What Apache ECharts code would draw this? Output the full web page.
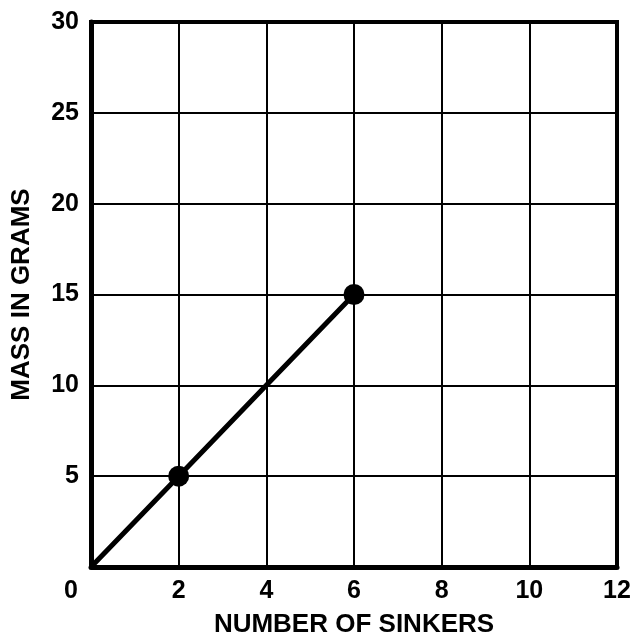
<!DOCTYPE html>
<html>
<head>
<meta charset="utf-8">
<script src="https://cdn.jsdelivr.net/npm/echarts@6/dist/echarts.min.js"></script>
<style>
  html, body { margin: 0; padding: 0; background: #fff; }
  #chart { width: 631px; height: 636px; }
</style>
</head>
<body>
<div id="chart"></div>
<script>
// data
const sinkers = [0, 2, 4, 6];
const mass = [0, 5, 10, 15];
const plotted = [false, true, false, true]; // only these get a dot
const xTicks = [0, 2, 4, 6, 8, 10, 12];
const yTicks = [0, 5, 10, 15, 20, 25, 30];

const font = 'Liberation Sans, Arial, Helvetica, sans-serif';
const chart = echarts.init(document.getElementById('chart'));

const points = sinkers.map((x, i) => ({
  value: [x, mass[i]],
  symbolSize: plotted[i] ? 21 : 0
}));

const option = {
  backgroundColor: '#fff',
  animation: false,
  grid: {
    left: 91, right: 14, top: 22, bottom: 69,
    outerBoundsMode: 'none',
    containLabel: false,
    show: true,
    borderColor: '#000',
    borderWidth: 4
  },
  xAxis: {
    type: 'value',
    min: xTicks[0], max: xTicks[xTicks.length - 1], interval: 2,
    name: 'NUMBER OF SINKERS',
    nameLocation: 'middle',
    nameGap: 45,
    nameTextStyle: { fontFamily: font, fontWeight: 'bold', fontSize: 26, color: '#000' },
    axisLine: { show: true, lineStyle: { color: '#000', width: 5 } },
    axisTick: { show: false },
    splitLine: { show: true, lineStyle: { color: '#000', width: 2 } },
    axisLabel: {
      margin: 12,
      fontFamily: font, fontWeight: 'bold', fontSize: 25, color: '#000',
      showMaxLabel: true,
      formatter: v => v === 0 ? '{z|0}' : String(v),
      rich: { z: { fontFamily: font, fontWeight: 'bold', fontSize: 25, color: '#000', padding: [0, 40, 0, 0] } }
    }
  },
  yAxis: {
    type: 'value',
    min: yTicks[0], max: yTicks[yTicks.length - 1], interval: 5,
    name: 'MASS IN GRAMS',
    nameLocation: 'middle',
    nameGap: 56,
    nameRotate: 90,
    nameTextStyle: { fontFamily: font, fontWeight: 'bold', fontSize: 26, color: '#000' },
    axisLine: { show: true, lineStyle: { color: '#000', width: 5 } },
    axisTick: { show: false },
    splitLine: { show: true, lineStyle: { color: '#000', width: 2 } },
    axisLabel: {
      margin: 12,
      fontFamily: font, fontWeight: 'bold', fontSize: 25, color: '#000',
      formatter: v => v === 0 ? '' : String(v)
    }
  },
  series: [{
    type: 'line',
    data: points,
    symbol: 'circle',
    showAllSymbol: true,
    lineStyle: { color: '#000', width: 5 },
    itemStyle: { color: '#000' }
  }]
};

chart.setOption(option);
</script>
</body>
</html>
